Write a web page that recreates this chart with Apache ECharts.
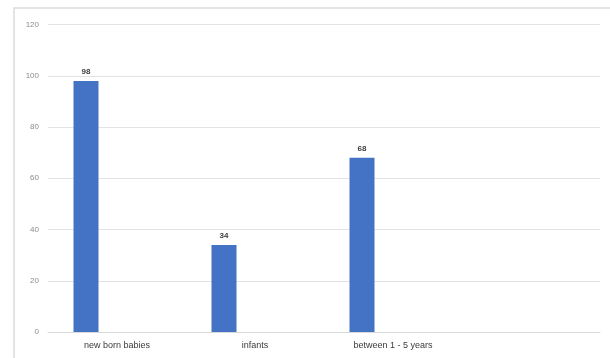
<!DOCTYPE html>
<html>
<head>
<meta charset="utf-8">
<script src="https://cdn.jsdelivr.net/npm/echarts@6/dist/echarts.min.js"></script>
<style>
  html, body { margin: 0; padding: 0; background: #ffffff; }
  #chart { width: 610px; height: 358px; }
</style>
</head>
<body>
<div id="chart"></div>
<script>
// Age groups on the category axis (last slot is left empty)
const categories = ['new born babies', 'infants', 'between 1 - 5 years', ''];
// Counts per age group
const counts = [98, 34, 68, null];
// Companion series with no values, keeps the bars in the left half of each slot
const emptySeries = [null, null, null, null];
// Value axis ticks
const yTicks = { min: 0, max: 120, step: 20 };

const chart = echarts.init(document.getElementById('chart'), null, { renderer: 'canvas' });

chart.setOption({
  animation: false,
  backgroundColor: '#ffffff',
  graphic: [{
    type: 'rect',
    shape: { x: 14, y: 8, width: 610, height: 360 },
    style: { fill: 'none', stroke: '#dcdcdc', lineWidth: 1.5 },
    silent: true,
    z: -1
  }],
  grid: { left: 48, right: 10, top: 24.5, bottom: 26, containLabel: false },
  xAxis: {
    type: 'category',
    data: categories,
    axisLine: { show: true, lineStyle: { color: '#d9d9d9', width: 1 } },
    axisTick: { show: false },
    axisLabel: {
      color: '#3a3a3a',
      fontSize: 9,
      fontFamily: 'Liberation Sans, Arial, sans-serif',
      margin: 9
    }
  },
  yAxis: {
    type: 'value',
    min: yTicks.min,
    max: yTicks.max,
    interval: yTicks.step,
    axisLine: { show: false },
    axisTick: { show: false },
    axisLabel: {
      color: '#8c8c8c',
      fontSize: 8,
      fontFamily: 'Liberation Sans, Arial, sans-serif',
      margin: 9
    },
    splitLine: { lineStyle: { color: '#e3e3e3', width: 1 } }
  },
  series: [
    {
      type: 'bar',
      data: counts,
      barWidth: 25,
      barGap: '148%',
      itemStyle: { color: '#4472c4' },
      label: {
        show: true,
        position: 'top',
        distance: 5,
        color: '#404040',
        fontSize: 8,
        fontWeight: 'bold',
        fontFamily: 'Liberation Sans, Arial, sans-serif'
      }
    },
    {
      type: 'bar',
      data: emptySeries,
      barWidth: 25,
      itemStyle: { color: '#ed7d31' }
    }
  ]
});
</script>
</body>
</html>
